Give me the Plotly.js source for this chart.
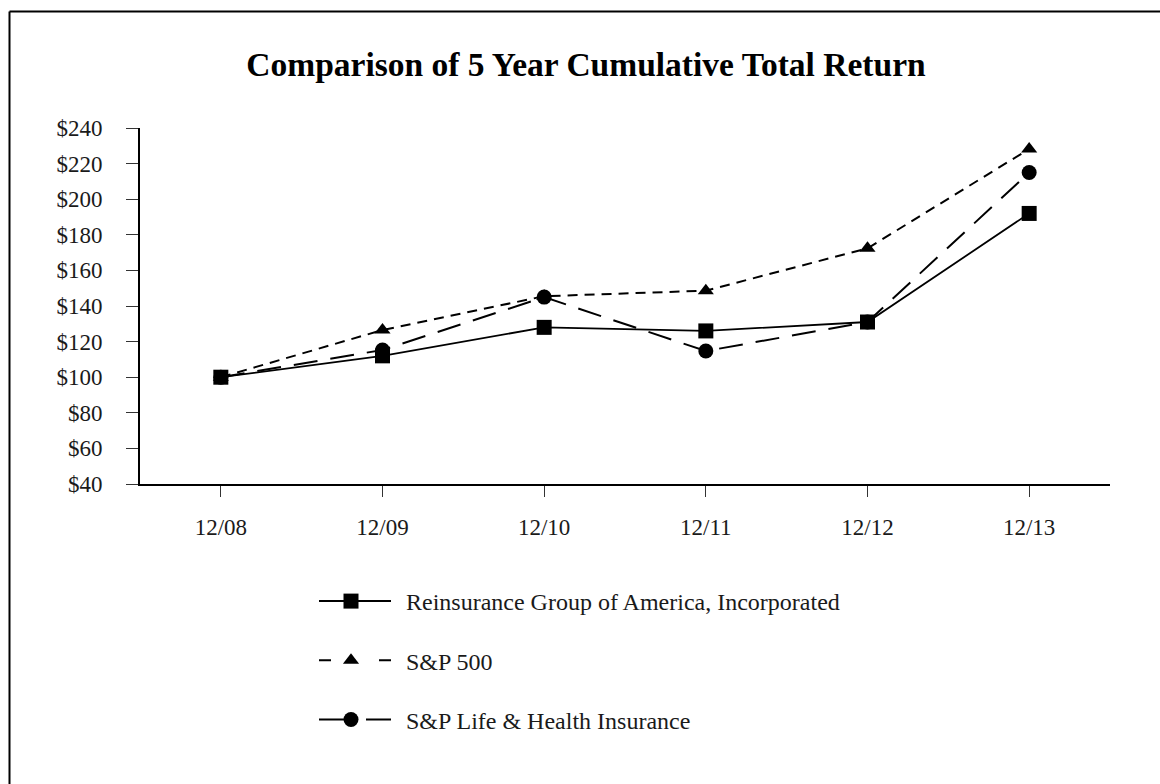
<!DOCTYPE html>
<html>
<head>
<meta charset="utf-8">
<script src="https://cdn.plot.ly/plotly-3.0.1.min.js"></script>
<style>
  html, body { margin: 0; padding: 0; background: #ffffff; }
  #chart { width: 1160px; height: 784px; }
</style>
</head>
<body>
<div id="chart"></div>
<script>
const periods = ["12/08", "12/09", "12/10", "12/11", "12/12", "12/13"];
const rgaValues = [100, 112, 128, 126, 131, 192];
const sp500Values = [100, 126.5, 145.5, 148.6, 172.4, 228.2];
const lifeHealthValues = [100, 115.3, 145, 114.7, 131, 215];
const seriesNames = ["Reinsurance Group of America, Incorporated", "S&P 500", "S&P Life & Health Insurance"];
const yTickValues = [40, 60, 80, 100, 120, 140, 160, 180, 200, 220, 240];
const yTickLabels = ["$40", "$60", "$80", "$100", "$120", "$140", "$160", "$180", "$200", "$220", "$240"];

const FONT = "Liberation Serif, Times New Roman, serif";

const traces = [
  {
    name: seriesNames[2], x: periods, y: lifeHealthValues, type: "scatter", mode: "lines+markers",
    legendgroup: "life", legendrank: 3,
    line: { color: "#000000", width: 2, dash: "24px,13px" },
    marker: { symbol: "circle", size: 15, color: "#000000" }
  },
  {
    name: seriesNames[1], x: periods, y: sp500Values, type: "scatter", mode: "lines+markers",
    legendgroup: "sp500", legendrank: 2,
    line: { color: "#000000", width: 2, dash: "10px,7px" },
    marker: { symbol: "triangle-up", size: 14, color: "#000000" }
  },
  {
    name: seriesNames[0], x: periods, y: rgaValues, type: "scatter", mode: "lines+markers",
    legendgroup: "rga", legendrank: 1,
    line: { color: "#000000", width: 1.8, dash: "solid" },
    marker: { symbol: "square", size: 15, color: "#000000" }
  }
];

const W = 1160, H = 784;
const L = 140, R = 50, T = 128, B = 300;
const pw = W - L - R, ph = H - T - B;
const px = v => (v - L) / pw;
const py = v => (H - B - v) / ph;

const layout = {
  width: W, height: H,
  margin: { l: L, r: R, t: T, b: B, pad: 0 },
  paper_bgcolor: "#ffffff", plot_bgcolor: "#ffffff",
  font: { family: FONT, color: "#1a1a1a", size: 22 },
  title: {
    text: "<b>Comparison of 5 Year Cumulative Total Return</b>",
    font: { family: FONT, size: 33.5, color: "#000000" },
    xref: "container", yref: "container", x: 586 / W, xanchor: "center",
    y: 1 - 64 / H, yanchor: "middle"
  },
  showlegend: true,
  legend: {
    orientation: "v", x: px(366), xanchor: "left", y: py(579), yanchor: "top",
    font: { family: FONT, size: 24, color: "#1a1a1a" },
    tracegroupgap: 25, traceorder: "grouped", bgcolor: "rgba(0,0,0,0)",
    itemwidth: 30
  },
  xaxis: {
    type: "category", range: [-0.5, 5.5], showgrid: false, zeroline: false,
    showline: true, linecolor: "#000000", linewidth: 2,
    ticks: "outside", ticklen: 11, tickwidth: 1, tickcolor: "#333333",
    ticklabelstandoff: 10,
    tickfont: { family: FONT, size: 23, color: "#1a1a1a" },
    fixedrange: true
  },
  yaxis: {
    range: [40, 240], showgrid: false, zeroline: false,
    showline: true, linecolor: "#000000", linewidth: 2,
    tickmode: "array", tickvals: yTickValues, ticktext: yTickLabels,
    ticks: "outside", ticklen: 12, tickwidth: 1, tickcolor: "#333333",
    ticklabelstandoff: 19,
    tickfont: { family: FONT, size: 23, color: "#1a1a1a" },
    fixedrange: true
  },
  shapes: [
    { type: "line", xref: "paper", yref: "paper", x0: px(9.5), x1: px(W + 5), y0: py(11.5), y1: py(11.5), line: { color: "#000000", width: 2 } },
    { type: "line", xref: "paper", yref: "paper", x0: px(9.5), x1: px(9.5), y0: py(11.5), y1: py(H + 5), line: { color: "#000000", width: 2 } }
  ]
};

// legend symbol styling (longer sample lines like the reference)
const legendDash = {};
legendDash[seriesNames[0]] = "none";
legendDash[seriesNames[1]] = "12,48,12";
legendDash[seriesNames[2]] = "25,22,25";

Plotly.newPlot("chart", traces, layout, { displayModeBar: false, staticPlot: true }).then(gd => {
  gd.querySelectorAll(".legend [clip-path]").forEach(el => el.removeAttribute("clip-path"));
  gd.querySelectorAll(".legend .traces").forEach(item => {
    const txt = item.querySelector(".legendtext");
    const name = txt ? txt.textContent : "";
    const ln = item.querySelector("path.js-line");
    if (ln) {
      ln.setAttribute("d", "M-47,0h72");
      ln.style.strokeDasharray = legendDash[name] || "none";
      ln.style.strokeWidth = "2px";
    }
    item.querySelectorAll(".legendpoints path.scatterpts").forEach(p => {
      p.setAttribute("transform", "translate(-15,0)");
    });
  });
});
</script>
</body>
</html>
